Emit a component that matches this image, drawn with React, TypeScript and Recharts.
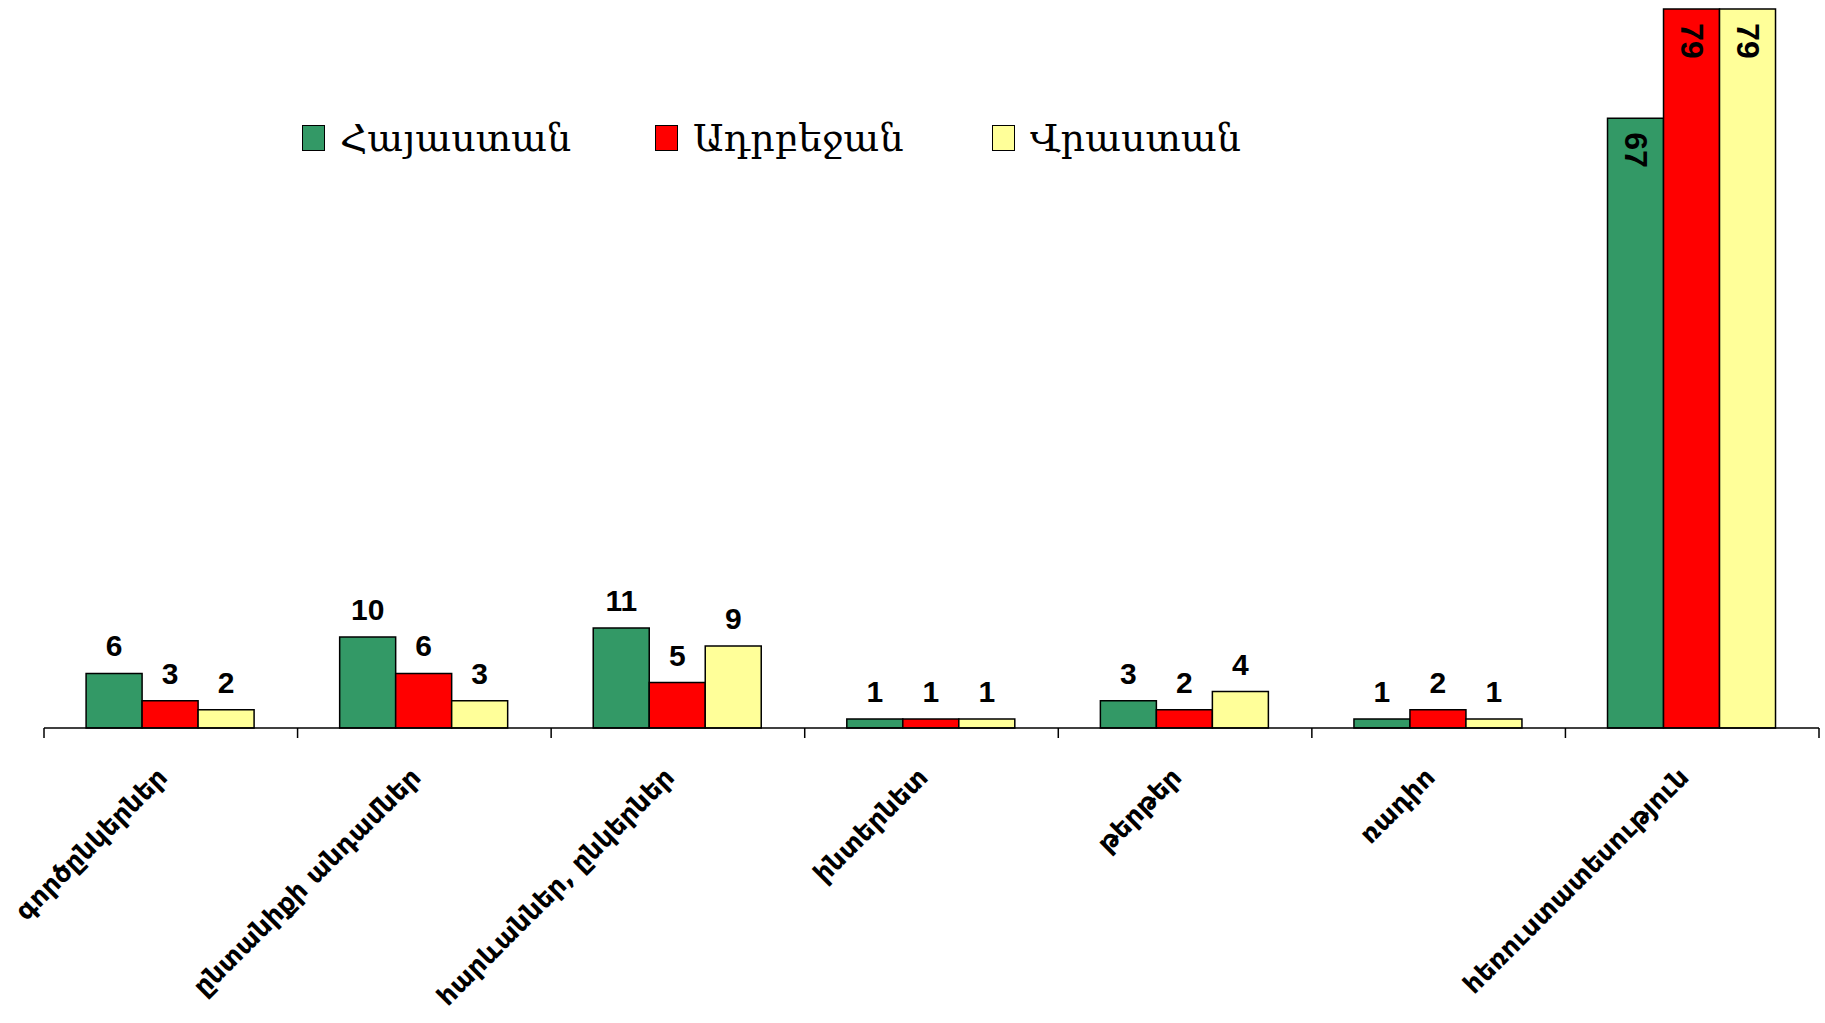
import React from 'react';
import { BarChart, Bar, XAxis, YAxis, LabelList, Legend } from 'recharts';

const categories = [
  'գործընկերներ',
  'ընտանիքի անդամներ',
  'հարևաններ, ընկերներ',
  'ինտերնետ',
  'թերթեր',
  'ռադիո',
  'հեռուստատեսություն',
];
const armenia = [6, 10, 11, 1, 3, 1, 67];
const azerbaijan = [3, 6, 5, 1, 2, 2, 79];
const georgia = [2, 3, 9, 1, 4, 1, 79];
const seriesNames = ['Հայաստան', 'Ադրբեջան', 'Վրաստան'];
const seriesColors = ['#339966', '#FF0000', '#FFFF99'];
const yDomain = [0, 80];

const data = categories.map((c, i) => ({
  name: c,
  s0: armenia[i],
  s1: azerbaijan[i],
  s2: georgia[i],
}));

const W = 1825;
const H = 1023;
const M = { top: 0, right: 6, left: 44, bottom: 0 };
const XH = 295;
const band = (W - M.left - M.right) / categories.length;

const Tick = (props: any) => {
  const { x, y, payload, index } = props;
  const left = x - band / 2;
  const right = x + band / 2;
  const ax = x - 2;
  const ay = y + 51;
  return (
    <g>
      <line x1={left} y1={y} x2={left} y2={y + 10} stroke="#000" strokeWidth={1.5} />
      {index === categories.length - 1 && (
        <line x1={right} y1={y} x2={right} y2={y + 10} stroke="#000" strokeWidth={1.5} />
      )}
      <text
        x={ax}
        y={ay}
        textAnchor="end"
        transform={`rotate(-45, ${ax}, ${ay})`}
        fontFamily="DejaVu Sans"
        fontWeight="bold"
        fontSize={26}
        fill="#000"
      >
        {payload.value}
      </text>
    </g>
  );
};

const ValueLabel = (props: any) => {
  const { x, y, width, value } = props;
  const cx = x + width / 2;
  if (value > 50) {
    const ty = y + 14;
    return (
      <text
        x={cx}
        y={ty}
        transform={`rotate(90, ${cx}, ${ty})`}
        textAnchor="start"
        dominantBaseline="central"
        fontFamily="Liberation Sans, Arial"
        fontWeight="bold"
        fontSize={32}
        fill="#000"
      >
        {value}
      </text>
    );
  }
  return (
    <text
      x={cx}
      y={y - 17}
      textAnchor="middle"
      fontFamily="Liberation Sans, Arial"
      fontWeight="bold"
      fontSize={30}
      fill="#000"
    >
      {value}
    </text>
  );
};

const itemWidths = [353, 337, 300];

const LegendContent = () => (
  <div style={{ display: 'flex', alignItems: 'center' }}>
    {seriesNames.map((n, i) => (
      <div key={n} style={{ display: 'flex', alignItems: 'center', width: itemWidths[i] }}>
        <div
          style={{
            width: 21,
            height: 24,
            background: seriesColors[i],
            border: '1.5px solid #000',
            marginRight: 15,
          }}
        />
        <span style={{ fontFamily: 'DejaVu Serif', fontSize: 38, color: '#000', lineHeight: 1 }}>{n}</span>
      </div>
    ))}
  </div>
);

export default function App() {
  return (
    <div style={{ position: 'absolute', left: 0, top: 0, width: W, height: H, background: '#fff' }}>
      <BarChart width={W} height={H} data={data} margin={M} barCategoryGap="16.6%" barGap={0}>
        <YAxis hide domain={yDomain} />
        <XAxis
          dataKey="name"
          height={XH}
          interval={0}
          tickSize={0}
          tickMargin={0}
          tickLine={false}
          axisLine={{ stroke: '#000', strokeWidth: 1.5 }}
          tick={<Tick />}
        />
        <Legend
          layout="vertical"
          verticalAlign="middle"
          align="center"
          content={<LegendContent />}
          wrapperStyle={{ top: 119, left: 302, width: 1100 }}
        />
        {['s0', 's1', 's2'].map((k, i) => (
          <Bar
            key={k}
            dataKey={k}
            name={seriesNames[i]}
            fill={seriesColors[i]}
            stroke="#000"
            strokeWidth={1.5}
            isAnimationActive={false}
          >
            <LabelList dataKey={k} content={<ValueLabel />} />
          </Bar>
        ))}
      </BarChart>
    </div>
  );
}
